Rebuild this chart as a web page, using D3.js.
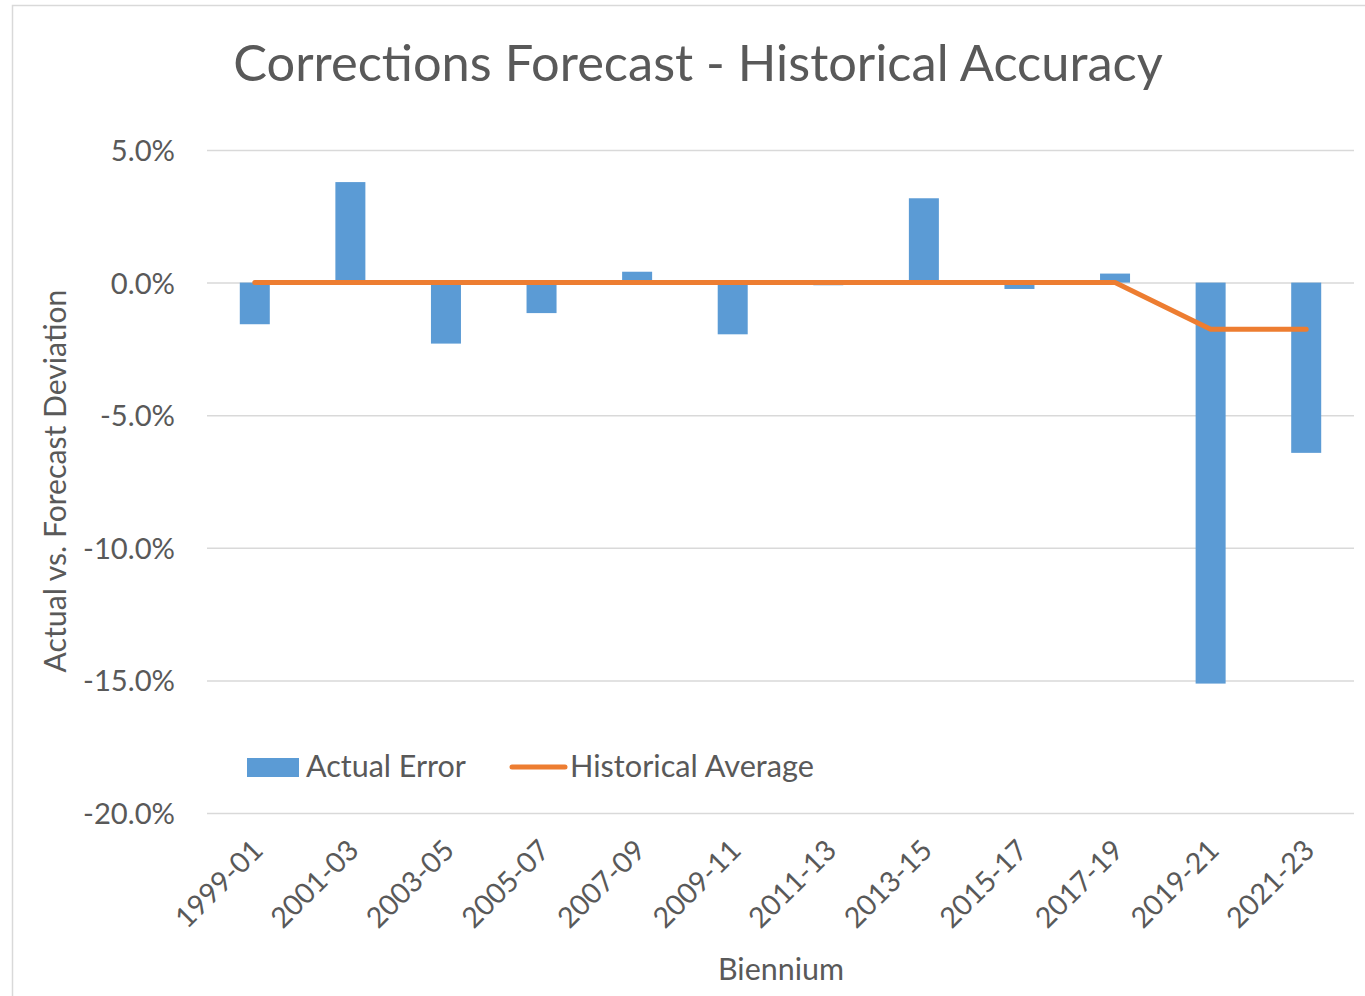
<!DOCTYPE html>
<html>
<head>
<meta charset="utf-8">
<script src="https://cdn.jsdelivr.net/npm/d3@7"></script>
<style>
  html, body { margin: 0; padding: 0; background: #fff; }
  svg { display: block; }
  text { font-family: Lato, "Open Sans", sans-serif; fill: #595959; }
</style>
</head>
<body>
<svg id="chart" width="1365" height="996"></svg>
<script>
// ---- Data ----
const categories = ["1999-01","2001-03","2003-05","2005-07","2007-09","2009-11","2011-13","2013-15","2015-17","2017-19","2019-21","2021-23"];
const actualError = [-1.57, 3.79, -2.30, -1.15, 0.41, -1.95, -0.10, 3.18, -0.24, 0.34, -15.12, -6.42];
const historicalAverage = [0, 0, 0, 0, 0, 0, 0, 0, 0, 0, -1.76, -1.76];
const yTicks = [5, 0, -5, -10, -15, -20];
const titleText = "Corrections Forecast - Historical Accuracy";
const xTitle = "Biennium";
const yTitle = "Actual vs. Forecast Deviation";
const seriesNames = ["Actual Error", "Historical Average"];

// ---- Layout ----
const svg = d3.select("#chart");
const plotLeft = 207, plotRight = 1354, plotTop = 150, plotBottom = 813;
const barColor = "#5B9BD5", lineColor = "#ED7D31", gridColor = "#D9D9D9";
const barW = 30;

function fitFont(sel, target) {
  sel.style("font-size", "40px");
  const w = sel.node().getComputedTextLength();
  const fs = 40 * target / w;
  sel.style("font-size", fs + "px");
  return fs;
}

// outer border
svg.append("rect").attr("x", 12.5).attr("y", 5.5).attr("width", 1400).attr("height", 1100)
  .attr("fill", "none").attr("stroke", gridColor).attr("stroke-width", 1.5);

const x = d3.scaleBand().domain(categories).range([plotLeft, plotRight]).padding(0);
const y = d3.scaleLinear().domain([-20, 5]).range([plotBottom, plotTop]);

// gridlines + y axis labels
const yAxis = d3.axisLeft(y).tickValues(yTicks).tickSize(-(plotRight - plotLeft)).tickPadding(32)
  .tickFormat(d => d3.format(".1f")(d).replace("\u2212", "-") + "%");
const yg = svg.append("g").attr("transform", `translate(${plotLeft},0)`).call(yAxis);
yg.select(".domain").remove();
yg.selectAll(".tick line").attr("stroke", gridColor).attr("stroke-width", 1.5);
yg.selectAll(".tick text").attr("fill", "#595959").style("font-family", "Lato, sans-serif")
  .attr("dy", "0.36em");
{
  const t = yg.selectAll(".tick text").filter(d => d === -20);
  const fs = fitFont(t, 92);
  yg.selectAll(".tick text").style("font-size", fs + "px");
}

// bars
svg.append("g").selectAll("rect").data(categories).join("rect")
  .attr("x", (d) => x(d) + (x.bandwidth() - barW) / 2)
  .attr("width", barW)
  .attr("y", (d, i) => y(Math.max(0, actualError[i])))
  .attr("height", (d, i) => Math.abs(y(actualError[i]) - y(0)))
  .attr("fill", barColor);

// line
const line = d3.line().x((d, i) => x(categories[i]) + x.bandwidth() / 2).y(d => y(d));
svg.append("path").datum(historicalAverage).attr("d", line)
  .attr("fill", "none").attr("stroke", lineColor).attr("stroke-width", 5)
  .attr("stroke-linecap", "round").attr("stroke-linejoin", "round");

// x axis labels (rotated)
const xg = svg.append("g");
const xl = xg.selectAll("text").data(categories).join("text")
  .attr("text-anchor", "end")
  .attr("transform", d => `translate(${x(d) + x.bandwidth() / 2 + 10},${852}) rotate(-45)`)
  .text(d => d);
{
  const fs = fitFont(xl.filter((d, i) => i === 0), 110);
  xl.style("font-size", fs + "px");
}

// title
const tt = svg.append("text").attr("x", 698).attr("y", 81).attr("text-anchor", "middle").text(titleText);
fitFont(tt, 930);

// axis titles
const xt = svg.append("text").attr("x", 781).attr("y", 980).attr("text-anchor", "middle").text(xTitle);
fitFont(xt, 126);
const ytEl = svg.append("text").attr("transform", "translate(66,481) rotate(-90)").attr("text-anchor", "middle").text(yTitle);
fitFont(ytEl, 383);

// legend
const lg = svg.append("g");
lg.append("rect").attr("x", 247).attr("y", 758).attr("width", 52).attr("height", 19).attr("fill", barColor);
const l1 = lg.append("text").attr("x", 306).attr("y", 777).text(seriesNames[0]);
fitFont(l1, 160);
lg.append("line").attr("x1", 512).attr("x2", 565).attr("y1", 767).attr("y2", 767)
  .attr("stroke", lineColor).attr("stroke-width", 5).attr("stroke-linecap", "round");
const l2 = lg.append("text").attr("x", 570).attr("y", 777).text(seriesNames[1]);
fitFont(l2, 244);
</script>
</body>
</html>
